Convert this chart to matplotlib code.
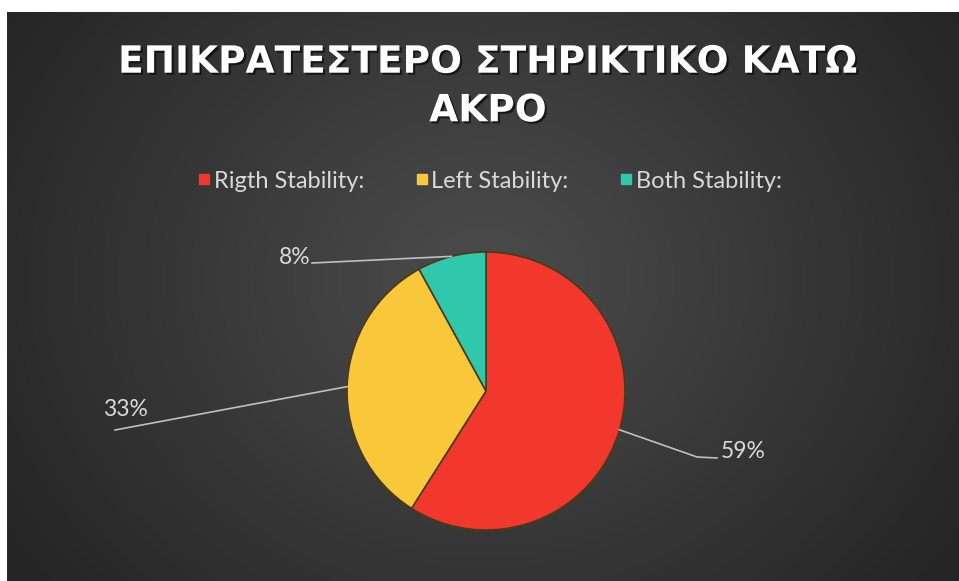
import numpy as np
import matplotlib
matplotlib.use("Agg")
import matplotlib.pyplot as plt
from matplotlib.lines import Line2D
import matplotlib.patheffects as pe

title = "ΕΠΙΚΡΑΤΕΣΤΕΡΟ ΣΤΗΡΙΚΤΙΚΟ ΚΑΤΩ\nΑΚΡΟ"
categories = ["Rigth Stability:", "Left Stability:", "Both Stability:"]
values = [59, 33, 8]
colors = ["#f2382c", "#f8c83a", "#2fc8ad"]

W, H = 959, 581
fig = plt.figure(figsize=(W / 100, H / 100), dpi=100)
fig.patch.set_facecolor("white")

# dark background with radial gradient
x0, y0, x1, y1 = 7, 12, 959, 581
bg = fig.add_axes([x0 / W, 1 - y1 / H, (x1 - x0) / W, (y1 - y0) / H])
bg.set_axis_off()
yy, xx = np.mgrid[0:300, 0:500]
cx, cy = 250, 140
r = np.sqrt(((xx - cx) / 300) ** 2 + ((yy - cy) / 260) ** 2)
r = np.clip(r, 0, 1)
c_in, c_out = np.array([0x4c, 0x4c, 0x4c]) / 255, np.array([0x25, 0x25, 0x25]) / 255
img = c_in[None, None, :] * (1 - r[..., None]) + c_out[None, None, :] * r[..., None]
bg.imshow(img, aspect="auto", extent=[0, 1, 0, 1])

# pie
pcx, pcy, pr = 486, 391, 139
ax = fig.add_axes([(pcx - pr) / W, 1 - (pcy + pr) / H, 2 * pr / W, 2 * pr / H])
ax.set_axis_off()
wedges, _ = ax.pie(values, colors=colors, startangle=90, counterclock=False,
                   radius=1.0,
                   wedgeprops=dict(edgecolor="#4a3a18", linewidth=1.2))
ax.set_xlim(-1, 1)
ax.set_ylim(-1, 1)
ax.set_aspect("equal")

# labels with leader lines
label_pos = [
    ((697, 457), (717, 458), "left"),
    ((115, 430), (115, 430), "left_above"),
    ((312, 263), (312, 263), "right"),
]
total = sum(values)
start = 90.0
lab_kw = dict(color="#d9d9d9", fontsize=16.5, va="center", family="Lato")
for v, w, (elbow, end, side) in zip(values, wedges, label_pos):
    ang = np.deg2rad(start - 360 * v / total / 2)
    start -= 360 * v / total
    sx = pcx + pr * np.cos(ang)
    sy = pcy - pr * np.sin(ang)
    xs = [sx / W, elbow[0] / W, end[0] / W]
    ys = [1 - sy / H, 1 - elbow[1] / H, 1 - end[1] / H]
    fig.add_artist(Line2D(xs, ys, color="#bfbfbf", lw=1.2, transform=fig.transFigure))
    txt = f"{v}%"
    if side == "left":
        fig.text((end[0] + 4) / W, 1 - (end[1] - 7) / H, txt, ha="left", **lab_kw)
    elif side == "left_above":
        fig.text((end[0] - 12) / W, 1 - (end[1] - 20) / H, txt, ha="left", **lab_kw)
    else:
        fig.text((end[0] - 2) / W, 1 - (end[1] - 5) / H, txt, ha="right", **lab_kw)

# title
fig.text(488 / W, 1 - 87 / H, title, color="white", fontsize=27, fontweight="bold",
         ha="center", va="center", family="DejaVu Sans", linespacing=1.45,
         path_effects=[pe.withSimplePatchShadow(offset=(1.5, -1.5), shadow_rgbFace="black", alpha=0.6)])

# legend
handles = [Line2D([], [], marker="s", linestyle="none", markersize=7,
                  markerfacecolor=c, markeredgecolor=c) for c in colors]
leg = fig.legend(handles, categories, loc="center", bbox_to_anchor=(490 / W, 1 - 181 / H),
                 ncol=3, frameon=False, handlelength=0.5, handletextpad=0.15,
                 columnspacing=2.2, prop=dict(family="Lato", size=17))
for t in leg.get_texts():
    t.set_color("#d9d9d9")

fig.savefig("out.png", dpi=100, facecolor=fig.get_facecolor())
